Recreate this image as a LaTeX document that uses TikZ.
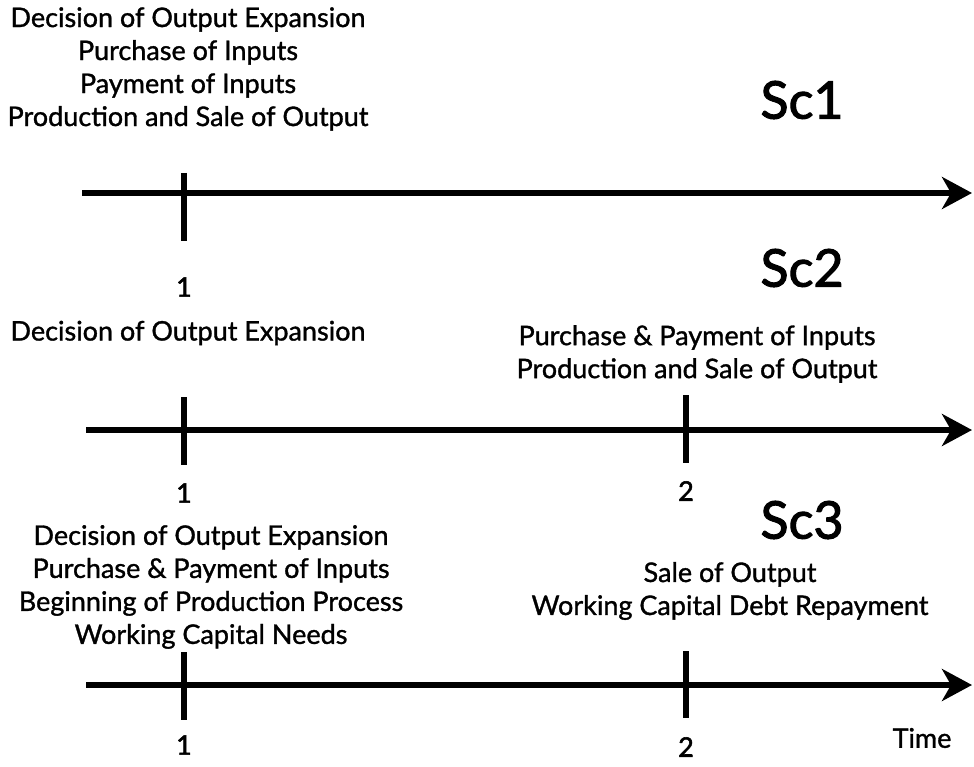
\documentclass[tikz,border=0pt]{standalone}
\usepackage{fontspec}
\setmainfont{Lato}
\newfontface\medfont{Lato}[FakeBold=1.2]
\newfontface\heavyfont{Lato}[FakeBold=2]
\usetikzlibrary{arrows.meta}
\begin{document}
\begin{tikzpicture}[x=1pt,y=-1pt,
  axis/.style={line width=6pt,-{Stealth[length=30pt,width=32pt,inset=9pt]}},
  tick/.style={line width=6pt},
  lbl/.style={font=\medfont\fontsize{27}{33}\selectfont,align=center,inner sep=0pt},
  num/.style={font=\heavyfont\fontsize{27}{30}\selectfont,inner sep=0pt},
  sc/.style={font=\heavyfont\fontsize{52}{56}\selectfont,inner sep=0pt}]
\useasboundingbox (0,0) rectangle (974,767);
% axis 1
\coordinate (a1s) at (82,193);
\coordinate (a1e) at (972,193);
\coordinate (t11a) at (184,173);
\coordinate (t11b) at (184,241);
\draw[axis] (a1s) -- (a1e);
\draw[tick] (t11a) -- (t11b);
\node[lbl] (txt1) at (188,69) {Decision of Output Expansion\\Purchase of Inputs\\Payment of Inputs\\Production and Sale of Output};
\node[sc] (sc1) at (802,100) {Sc1};
\node[num] (n11) at (184,287) {1};
% axis 2
\coordinate (a2s) at (86,430);
\coordinate (a2e) at (972,430);
\coordinate (t21a) at (184,397);
\coordinate (t21b) at (184,465);
\coordinate (t22a) at (686,395);
\coordinate (t22b) at (686,463);
\draw[axis] (a2s) -- (a2e);
\draw[tick] (t21a) -- (t21b);
\draw[tick] (t22a) -- (t22b);
\node[sc] (sc2) at (802,268) {Sc2};
\node[lbl] (txt2a) at (188,333) {Decision of Output Expansion};
\node[lbl] (txt2b) at (697,354) {Purchase \& Payment of Inputs\\Production and Sale of Output};
\node[num] (n21) at (184,493) {1};
\node[num] (n22) at (686,491) {2};
% axis 3
\coordinate (a3s) at (86,685);
\coordinate (a3e) at (972,685);
\coordinate (t31a) at (184,652);
\coordinate (t31b) at (184,720);
\coordinate (t32a) at (686,651);
\coordinate (t32b) at (686,718);
\draw[axis] (a3s) -- (a3e);
\draw[tick] (t31a) -- (t31b);
\draw[tick] (t32a) -- (t32b);
\node[sc] (sc3) at (802,520) {Sc3};
\node[lbl] (txt3a) at (211,587) {Decision of Output Expansion\\Purchase \& Payment of Inputs\\Beginning of Production Process\\Working Capital Needs};
\node[lbl] (txt3b) at (730,591) {Sale of Output\\Working Capital Debt Repayment};
\node[num] (n31) at (184,745) {1};
\node[num] (n32) at (686,747) {2};
\node[lbl] (time) at (922,738) {Time};
\end{tikzpicture}
\end{document}
